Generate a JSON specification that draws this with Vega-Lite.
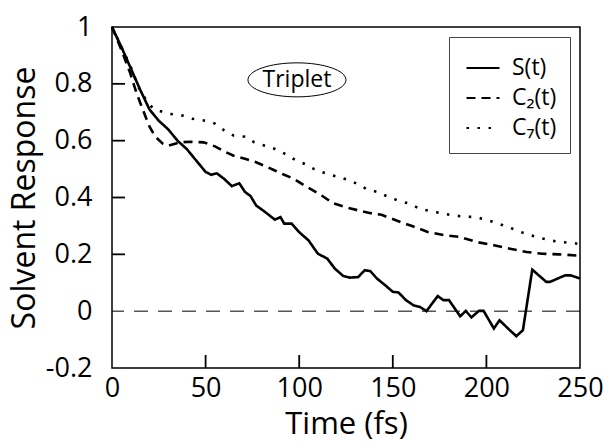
{
  "$schema": "https://vega.github.io/schema/vega-lite/v6.json",
  "width": 468,
  "height": 341,
  "autosize": {"type": "none"},
  "padding": {"left": 112, "top": 27, "right": 23, "bottom": 74},
  "background": "white",
  "config": {
    "font": "Open Sans",
    "view": {"stroke": "black", "strokeWidth": 1.5},
    "axis": {"grid": false, "domain": false, "ticks": false, "labelColor": "black", "titleColor": "black", "labelFont": "Open Sans", "titleFont": "Open Sans", "titleFontWeight": "normal"}
  },
  "layer": [
    {
      "data": {"values": [{"y": 0}]},
      "mark": {"type": "rule", "color": "black", "strokeWidth": 1, "strokeDash": [14, 10]},
      "encoding": {"y": {"field": "y", "type": "quantitative", "scale": {"domain": [-0.2, 1], "nice": false}}}
    },
    {
      "data": {"values": [{"t": 50}, {"t": 100}, {"t": 150}, {"t": 200}]},
      "mark": {"type": "tick", "orient": "vertical", "size": 26, "thickness": 1.8, "color": "black", "opacity": 1, "clip": true},
      "encoding": {"x": {"field": "t", "type": "quantitative"}, "y": {"datum": -0.2, "type": "quantitative"}}
    },
    {
      "data": {"values": [{"v": 0.2}, {"v": 0.4}, {"v": 0.6}, {"v": 0.8}]},
      "mark": {"type": "tick", "orient": "horizontal", "size": 26, "thickness": 1.8, "color": "black", "opacity": 1, "clip": true},
      "encoding": {"y": {"field": "v", "type": "quantitative"}, "x": {"datum": 0, "type": "quantitative"}}
    },
    {
      "data": {"values": [
        {"t": 0, "v": 1.0, "s": "S(t)"}, {"t": 5, "v": 0.93, "s": "S(t)"}, {"t": 10, "v": 0.855, "s": "S(t)"}, {"t": 15, "v": 0.78, "s": "S(t)"}, {"t": 20, "v": 0.71, "s": "S(t)"}, {"t": 25, "v": 0.67, "s": "S(t)"}, {"t": 30, "v": 0.64, "s": "S(t)"}, {"t": 35, "v": 0.6, "s": "S(t)"}, {"t": 40, "v": 0.57, "s": "S(t)"}, {"t": 45, "v": 0.53, "s": "S(t)"}, {"t": 50, "v": 0.49, "s": "S(t)"}, {"t": 53, "v": 0.48, "s": "S(t)"}, {"t": 56, "v": 0.485, "s": "S(t)"}, {"t": 60, "v": 0.465, "s": "S(t)"}, {"t": 64, "v": 0.44, "s": "S(t)"}, {"t": 68, "v": 0.45, "s": "S(t)"}, {"t": 71, "v": 0.42, "s": "S(t)"}, {"t": 74, "v": 0.405, "s": "S(t)"}, {"t": 77, "v": 0.372, "s": "S(t)"}, {"t": 82, "v": 0.348, "s": "S(t)"}, {"t": 87, "v": 0.322, "s": "S(t)"}, {"t": 90, "v": 0.331, "s": "S(t)"}, {"t": 92, "v": 0.308, "s": "S(t)"}, {"t": 96, "v": 0.308, "s": "S(t)"}, {"t": 100, "v": 0.278, "s": "S(t)"}, {"t": 105, "v": 0.249, "s": "S(t)"}, {"t": 110, "v": 0.202, "s": "S(t)"}, {"t": 115, "v": 0.185, "s": "S(t)"}, {"t": 119, "v": 0.15, "s": "S(t)"}, {"t": 123.5, "v": 0.124, "s": "S(t)"}, {"t": 127, "v": 0.118, "s": "S(t)"}, {"t": 131.5, "v": 0.12, "s": "S(t)"}, {"t": 135, "v": 0.144, "s": "S(t)"}, {"t": 138, "v": 0.141, "s": "S(t)"}, {"t": 141.5, "v": 0.115, "s": "S(t)"}, {"t": 146, "v": 0.091, "s": "S(t)"}, {"t": 150, "v": 0.068, "s": "S(t)"}, {"t": 153, "v": 0.066, "s": "S(t)"}, {"t": 157, "v": 0.039, "s": "S(t)"}, {"t": 161, "v": 0.021, "s": "S(t)"}, {"t": 164.5, "v": 0.015, "s": "S(t)"}, {"t": 168, "v": 0.0, "s": "S(t)"}, {"t": 171, "v": 0.027, "s": "S(t)"}, {"t": 174, "v": 0.053, "s": "S(t)"}, {"t": 177, "v": 0.039, "s": "S(t)"}, {"t": 180, "v": 0.039, "s": "S(t)"}, {"t": 186, "v": -0.018, "s": "S(t)"}, {"t": 189, "v": 0.001, "s": "S(t)"}, {"t": 192, "v": -0.022, "s": "S(t)"}, {"t": 196, "v": 0.001, "s": "S(t)"}, {"t": 198.5, "v": 0.001, "s": "S(t)"}, {"t": 204, "v": -0.061, "s": "S(t)"}, {"t": 207, "v": -0.032, "s": "S(t)"}, {"t": 212.5, "v": -0.067, "s": "S(t)"}, {"t": 216, "v": -0.088, "s": "S(t)"}, {"t": 219.5, "v": -0.067, "s": "S(t)"}, {"t": 224.5, "v": 0.146, "s": "S(t)"}, {"t": 232, "v": 0.103, "s": "S(t)"}, {"t": 234, "v": 0.103, "s": "S(t)"}, {"t": 242, "v": 0.126, "s": "S(t)"}, {"t": 245, "v": 0.126, "s": "S(t)"}, {"t": 250, "v": 0.115, "s": "S(t)"},
        {"t": 0, "v": 1.0, "s": "C₂(t)"}, {"t": 5, "v": 0.92, "s": "C₂(t)"}, {"t": 9.6, "v": 0.84, "s": "C₂(t)"}, {"t": 13, "v": 0.77, "s": "C₂(t)"}, {"t": 16.7, "v": 0.705, "s": "C₂(t)"}, {"t": 20, "v": 0.65, "s": "C₂(t)"}, {"t": 23, "v": 0.615, "s": "C₂(t)"}, {"t": 27, "v": 0.59, "s": "C₂(t)"}, {"t": 30, "v": 0.582, "s": "C₂(t)"}, {"t": 36, "v": 0.594, "s": "C₂(t)"}, {"t": 42, "v": 0.596, "s": "C₂(t)"}, {"t": 49, "v": 0.594, "s": "C₂(t)"}, {"t": 55, "v": 0.58, "s": "C₂(t)"}, {"t": 60, "v": 0.562, "s": "C₂(t)"}, {"t": 65, "v": 0.547, "s": "C₂(t)"}, {"t": 71, "v": 0.536, "s": "C₂(t)"}, {"t": 77, "v": 0.524, "s": "C₂(t)"}, {"t": 82, "v": 0.51, "s": "C₂(t)"}, {"t": 87, "v": 0.495, "s": "C₂(t)"}, {"t": 92, "v": 0.48, "s": "C₂(t)"}, {"t": 97, "v": 0.466, "s": "C₂(t)"}, {"t": 104, "v": 0.438, "s": "C₂(t)"}, {"t": 112, "v": 0.407, "s": "C₂(t)"}, {"t": 118, "v": 0.38, "s": "C₂(t)"}, {"t": 127, "v": 0.362, "s": "C₂(t)"}, {"t": 137, "v": 0.346, "s": "C₂(t)"}, {"t": 144, "v": 0.339, "s": "C₂(t)"}, {"t": 152, "v": 0.319, "s": "C₂(t)"}, {"t": 161, "v": 0.298, "s": "C₂(t)"}, {"t": 169, "v": 0.278, "s": "C₂(t)"}, {"t": 177, "v": 0.268, "s": "C₂(t)"}, {"t": 186, "v": 0.261, "s": "C₂(t)"}, {"t": 195, "v": 0.243, "s": "C₂(t)"}, {"t": 204, "v": 0.232, "s": "C₂(t)"}, {"t": 212.6, "v": 0.22, "s": "C₂(t)"}, {"t": 221.5, "v": 0.208, "s": "C₂(t)"}, {"t": 230, "v": 0.202, "s": "C₂(t)"}, {"t": 239, "v": 0.2, "s": "C₂(t)"}, {"t": 250, "v": 0.195, "s": "C₂(t)"},
        {"t": 0, "v": 1.0, "s": "C₇(t)"}, {"t": 5, "v": 0.93, "s": "C₇(t)"}, {"t": 10, "v": 0.86, "s": "C₇(t)"}, {"t": 14, "v": 0.79, "s": "C₇(t)"}, {"t": 17, "v": 0.755, "s": "C₇(t)"}, {"t": 22, "v": 0.712, "s": "C₇(t)"}, {"t": 30, "v": 0.695, "s": "C₇(t)"}, {"t": 38, "v": 0.688, "s": "C₇(t)"}, {"t": 43, "v": 0.677, "s": "C₇(t)"}, {"t": 50, "v": 0.67, "s": "C₇(t)"}, {"t": 55, "v": 0.66, "s": "C₇(t)"}, {"t": 60, "v": 0.636, "s": "C₇(t)"}, {"t": 65, "v": 0.618, "s": "C₇(t)"}, {"t": 71, "v": 0.614, "s": "C₇(t)"}, {"t": 76, "v": 0.594, "s": "C₇(t)"}, {"t": 82, "v": 0.582, "s": "C₇(t)"}, {"t": 87, "v": 0.571, "s": "C₇(t)"}, {"t": 92, "v": 0.555, "s": "C₇(t)"}, {"t": 98, "v": 0.532, "s": "C₇(t)"}, {"t": 103, "v": 0.518, "s": "C₇(t)"}, {"t": 108, "v": 0.5, "s": "C₇(t)"}, {"t": 115, "v": 0.483, "s": "C₇(t)"}, {"t": 120, "v": 0.474, "s": "C₇(t)"}, {"t": 126, "v": 0.462, "s": "C₇(t)"}, {"t": 131, "v": 0.448, "s": "C₇(t)"}, {"t": 136, "v": 0.43, "s": "C₇(t)"}, {"t": 142, "v": 0.419, "s": "C₇(t)"}, {"t": 148, "v": 0.401, "s": "C₇(t)"}, {"t": 153, "v": 0.389, "s": "C₇(t)"}, {"t": 159, "v": 0.378, "s": "C₇(t)"}, {"t": 164.5, "v": 0.36, "s": "C₇(t)"}, {"t": 170, "v": 0.352, "s": "C₇(t)"}, {"t": 176, "v": 0.345, "s": "C₇(t)"}, {"t": 182, "v": 0.337, "s": "C₇(t)"}, {"t": 188, "v": 0.333, "s": "C₇(t)"}, {"t": 194, "v": 0.331, "s": "C₇(t)"}, {"t": 200, "v": 0.322, "s": "C₇(t)"}, {"t": 205.5, "v": 0.31, "s": "C₇(t)"}, {"t": 211, "v": 0.298, "s": "C₇(t)"}, {"t": 217, "v": 0.282, "s": "C₇(t)"}, {"t": 222, "v": 0.27, "s": "C₇(t)"}, {"t": 228.6, "v": 0.258, "s": "C₇(t)"}, {"t": 234, "v": 0.249, "s": "C₇(t)"}, {"t": 240, "v": 0.243, "s": "C₇(t)"}, {"t": 246, "v": 0.24, "s": "C₇(t)"}, {"t": 250, "v": 0.236, "s": "C₇(t)"}
      ]},
      "mark": {"type": "line", "color": "black", "strokeWidth": 2.6, "strokeJoin": "miter"},
      "encoding": {
        "x": {"field": "t", "type": "quantitative", "scale": {"domain": [0, 250], "nice": false},
              "axis": {"title": "Time (fs)", "values": [0, 50, 100, 150, 200, 250], "labelFontSize": 27, "titleFontSize": 31, "labelPadding": 7, "titlePadding": 8, "labelFlush": false}},
        "y": {"field": "v", "type": "quantitative", "scale": {"domain": [-0.2, 1], "nice": false},
              "axis": {"title": "Solvent Response", "values": [-0.2, 0, 0.2, 0.4, 0.6, 0.8, 1], "labelFontSize": 27, "titleFontSize": 32, "labelPadding": 20, "titlePadding": 4, "labelFlush": false,
                       "labelExpr": "datum.value < -0.1 ? '-0.2' : (datum.value == 0 ? '0' : (datum.value > 0.95 ? '1' : format(datum.value, '.1f')))"}},
        "strokeDash": {"field": "s", "type": "nominal",
          "scale": {"domain": ["S(t)", "C₂(t)", "C₇(t)"], "range": [[1, 0], [9, 6], [2.5, 8.5]]},
          "legend": {"title": null, "orient": "top-right", "offset": 10, "padding": 13, "strokeColor": "#444", "fillColor": "white",
                     "symbolType": "stroke", "symbolSize": 1089, "symbolStrokeWidth": 2.2, "symbolStrokeColor": "black", "symbolOffset": 3,
                     "labelFontSize": 23, "labelFont": "Open Sans", "labelColor": "black", "labelOffset": 11, "rowPadding": -1}},
        "order": {"field": "t", "type": "quantitative"}
      }
    },
    {
      "data": {"values": [{"t": 98.8, "v": 0.814, "label": "Triplet"}]},
      "layer": [
        {
          "mark": {"type": "point", "filled": false, "stroke": "black", "strokeWidth": 1, "opacity": 1, "size": 9604,
                   "shape": "M1,0 C1,0.1916 0.5523,0.347 0,0.347 C-0.5523,0.347 -1,0.1916 -1,0 C-1,-0.1916 -0.5523,-0.347 0,-0.347 C0.5523,-0.347 1,-0.1916 1,0 Z"},
          "encoding": {"x": {"field": "t", "type": "quantitative"}, "y": {"field": "v", "type": "quantitative"}}
        },
        {
          "mark": {"type": "text", "fontSize": 23, "font": "Open Sans", "color": "black", "baseline": "middle", "align": "center"},
          "encoding": {"x": {"field": "t", "type": "quantitative"}, "y": {"field": "v", "type": "quantitative"}, "text": {"field": "label"}}
        }
      ]
    }
  ]
}
